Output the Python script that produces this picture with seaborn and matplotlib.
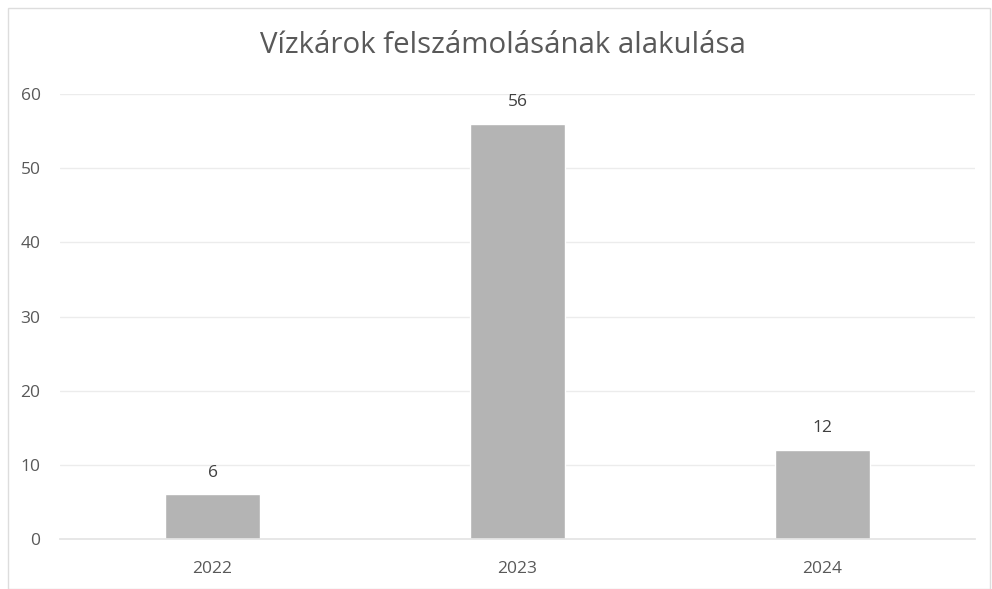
import matplotlib
matplotlib.use("Agg")
import matplotlib.pyplot as plt
import seaborn as sns
import pandas as pd
from matplotlib.patches import Rectangle

years = ["2022", "2023", "2024"]
counts = [6, 56, 12]
title = "Vízkárok felszámolásának alakulása"

df = pd.DataFrame({"year": years, "count": counts})

sns.set_theme(style="white")
plt.rcParams["font.family"] = ["Open Sans", "DejaVu Sans"]

fig = plt.figure(figsize=(9.92, 5.89), dpi=100)
ax = fig.add_axes([0.0605, 0.085, 0.9225, 0.755])

sns.barplot(data=df, x="year", y="count", color="#b4b4b4", width=0.31,
            saturation=1, ax=ax)

ax.set_ylim(0, 60)
ax.set_yticks(range(0, 61, 10))
ax.yaxis.grid(True, color="#ececec", linewidth=1)
ax.set_axisbelow(True)
for s in ["top", "right", "left"]:
    ax.spines[s].set_visible(False)
ax.spines["bottom"].set_color("#e4e4e4")
ax.tick_params(axis="both", length=0, labelsize=12.5, labelcolor="#595959")
ax.tick_params(axis="y", pad=14)
ax.tick_params(axis="x", pad=16)
ax.set_xlabel("")
ax.set_ylabel("")

for c in ax.containers:
    ax.bar_label(c, padding=10, fontsize=12.5, color="#404040")

fig.text(0.507, 0.923, title, ha="center", va="center", fontsize=21.2,
         color="#595959")

fig.patches.append(Rectangle((0.008, 0.0), 0.99, 0.986, transform=fig.transFigure,
                             fill=False, edgecolor="#dddddd", linewidth=1))

fig.savefig("out.png", dpi=100)
